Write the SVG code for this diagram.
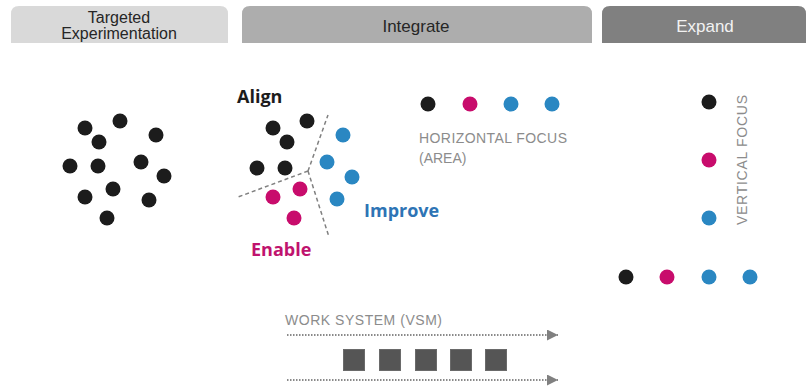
<svg xmlns="http://www.w3.org/2000/svg" width="810" height="391" viewBox="0 0 810 391">
<defs>
<style>
.hdr{font-family:"Liberation Sans",Arial,sans-serif;font-size:16px;text-anchor:middle}
.hdr2{font-family:"Liberation Sans",Arial,sans-serif;font-size:17px;text-anchor:middle}
.k{fill:#1c1c1c}.m{fill:#c80c6c}.b{fill:#2a87c2}
.lbl{font-family:"Liberation Sans",Arial,sans-serif;font-size:14px;fill:#8c8c8c}
.big{font-family:"Open Sans","Liberation Sans",Arial,sans-serif;font-size:18px;font-weight:bold}
.dash{stroke:#808080;stroke-width:1.5;stroke-dasharray:4,3;fill:none}
.dot{stroke:#8a8a8a;stroke-width:2;stroke-dasharray:1.5,1.5;fill:none}
.sq{fill:#555555;stroke:#6a6a6a;stroke-width:1}
</style>
<marker id="arr" viewBox="0 0 10 10" refX="10" refY="5" markerWidth="11" markerHeight="11" markerUnits="userSpaceOnUse" orient="auto">
<path d="M0,0 L10,5 L0,10 Z" fill="#808080"/>
</marker>
</defs>
<rect width="810" height="391" fill="#ffffff"/>
<g id="hdr-targeted">
<path d="M11,43 V14 Q11,6 19,6 H220 Q228,6 228,14 V43 Z" fill="#d9d9d9"/>
<text class="hdr" x="119" y="23" fill="#262626">Targeted</text>
<text class="hdr" x="119" y="39" fill="#262626">Experimentation</text>
</g>
<g id="hdr-integrate">
<path d="M242,43 V14 Q242,6 250,6 H584 Q592,6 592,14 V43 Z" fill="#adadad"/>
<text class="hdr2" x="416" y="32" fill="#262626">Integrate</text>
</g>
<g id="hdr-expand">
<path d="M602,43 V14 Q602,6 610,6 H798 Q806,6 806,14 V43 Z" fill="#808080"/>
<text class="hdr2" x="705" y="32" fill="#f2f2f2">Expand</text>
</g>
<g id="targeted-dots" class="k">
<circle cx="85" cy="128" r="7.5"/><circle cx="120" cy="121" r="7.5"/><circle cx="99" cy="142" r="7.5"/>
<circle cx="156" cy="135" r="7.5"/><circle cx="70" cy="166" r="7.5"/><circle cx="98" cy="166" r="7.5"/>
<circle cx="141" cy="162" r="7.5"/><circle cx="164" cy="176" r="7.5"/><circle cx="113" cy="189" r="7.5"/>
<circle cx="85" cy="197" r="7.5"/><circle cx="149" cy="200" r="7.5"/><circle cx="107" cy="218" r="7.5"/>
</g>
<g id="integrate-cluster">
<g id="dividers">
<path class="dash" d="M308,171 L328,115 M308,171 L238,197 M308,171 L329,237"/>
</g>
<g id="align">
<text class="big k" x="237" y="103">Align</text>
<circle class="k" cx="273" cy="128" r="7.5"/><circle class="k" cx="307" cy="121" r="7.5"/><circle class="k" cx="287" cy="142" r="7.5"/>
<circle class="k" cx="257" cy="168" r="7.5"/><circle class="k" cx="285" cy="168" r="7.5"/>
</g>
<g id="improve">
<circle class="b" cx="343" cy="135" r="7.5"/><circle class="b" cx="327" cy="162" r="7.5"/>
<circle class="b" cx="352" cy="177" r="7.5"/><circle class="b" cx="337" cy="199" r="7.5"/>
<text class="big" x="364" y="217" fill="#2e74b5">Improve</text>
</g>
<g id="enable">
<circle class="m" cx="300" cy="189" r="7.5"/><circle class="m" cx="273" cy="197" r="7.5"/><circle class="m" cx="294" cy="218" r="7.5"/>
<text class="big" x="251" y="256" fill="#c0136e">Enable</text>
</g>
</g>
<g id="horizontal-focus">
<circle class="k" cx="428" cy="104" r="7.5"/><circle class="m" cx="470" cy="104" r="7.5"/>
<circle class="b" cx="511" cy="104" r="7.5"/><circle class="b" cx="552" cy="104" r="7.5"/>
<text class="lbl" x="419" y="143" textLength="148">HORIZONTAL FOCUS</text>
<text class="lbl" x="419" y="163">(AREA)</text>
</g>
<g id="vertical-focus">
<circle class="k" cx="709" cy="102" r="7.5"/><circle class="m" cx="709" cy="160" r="7.5"/><circle class="b" cx="709" cy="218" r="7.5"/>
<circle class="k" cx="626" cy="277" r="7.5"/><circle class="m" cx="667" cy="277" r="7.5"/>
<circle class="b" cx="709" cy="277" r="7.5"/><circle class="b" cx="750" cy="277" r="7.5"/>
<text class="lbl" transform="translate(747,160) rotate(-90)" text-anchor="middle" textLength="130">VERTICAL FOCUS</text>
</g>
<g id="work-system">
<text class="lbl" x="285" y="325" textLength="157">WORK SYSTEM (VSM)</text>
<g id="connectors">
<path class="dot" d="M287,335 H558" marker-end="url(#arr)"/>
<path class="dot" d="M287,380 H558" marker-end="url(#arr)"/>
</g>
<rect class="sq" x="343.5" y="349.5" width="21" height="21"/>
<rect class="sq" x="379.5" y="349.5" width="21" height="21"/>
<rect class="sq" x="415.5" y="349.5" width="21" height="21"/>
<rect class="sq" x="450.5" y="349.5" width="21" height="21"/>
<rect class="sq" x="485.5" y="349.5" width="21" height="21"/>
</g>
</svg>
